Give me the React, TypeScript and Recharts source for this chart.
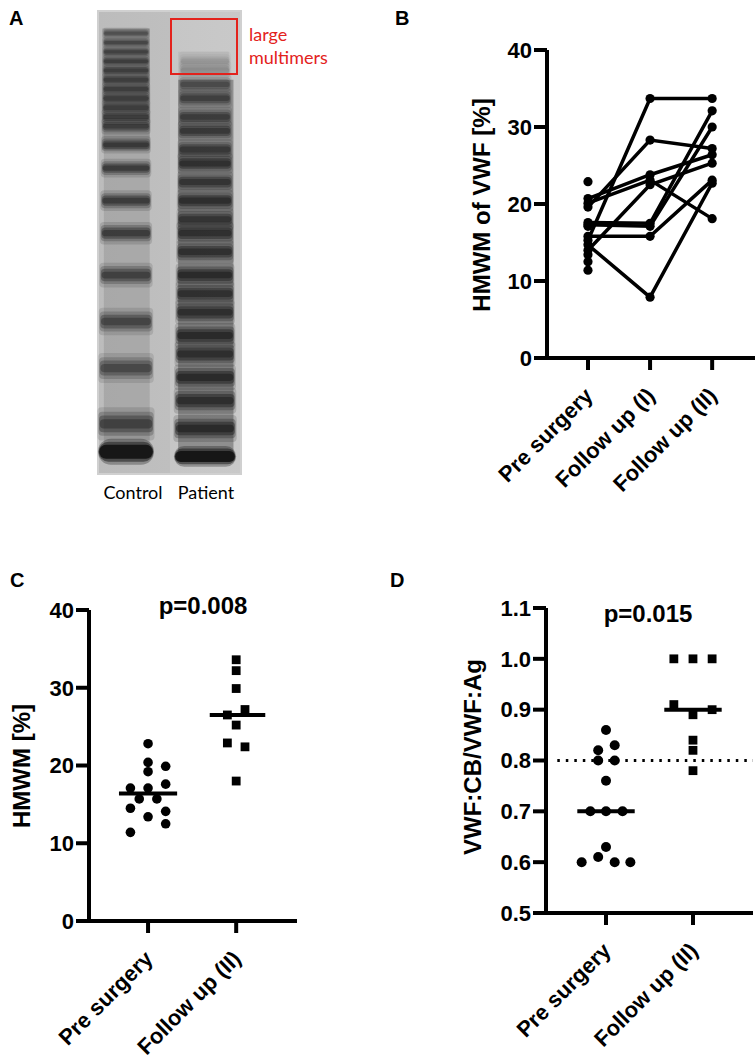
import React from 'react';
import {
  LineChart,
  Line,
  ScatterChart,
  Scatter,
  XAxis,
  YAxis,
  ReferenceLine,
  ReferenceArea,
} from 'recharts';

const FONT = '"Liberation Sans", Arial, Helvetica, sans-serif';
const LABEL_FONT = 'Lato, "Open Sans", sans-serif';

// ---- Panel A: multimer gel (migration in % of gel length, 0 = top) ----
const controlBands = [5, 7, 9, 11, 13, 15, 17, 19, 21, 23, 25, 29, 34, 41, 48, 57, 67, 77, 89, 95];
const controlIntensity = [0.45, 0.55, 0.6, 0.65, 0.65, 0.65, 0.65, 0.65, 0.65, 0.65, 0.65, 0.7, 0.75, 0.75, 0.75, 0.7, 0.65, 0.6, 0.7, 1];
const patientBands = [11, 13, 16, 19, 23, 26, 30, 33, 37, 41, 45, 48, 52, 57, 61, 65, 70, 74, 79, 84, 90, 96];
const patientIntensity = [0.15, 0.2, 0.5, 0.6, 0.65, 0.7, 0.7, 0.8, 0.75, 0.85, 0.75, 0.8, 0.8, 0.9, 0.8, 0.85, 0.9, 0.85, 0.9, 0.85, 0.9, 1];

// ---- Panel B: HMWM per patient over time ----
const stagesB = ['Pre surgery', 'Follow up (I)', 'Follow up (II)'];
const preB = [15.3, 19.6, 14.7, 15.8, 17.6, 17.3, 20.7, 20.1, 14.0, 22.9, 17.1, 13.4, 12.5, 11.4];
const fu1B = [33.7, 28.3, 7.9, 15.8, 17.5, 17.1, 23.8, 23.1, 22.5];
const fu2B = [33.7, 27.2, 22.7, 23.1, 32.1, 30.0, 26.4, 18.1, 25.3];

// ---- Panel C: HMWM pre vs follow up (II) ----
const stagesCD = ['Pre surgery', 'Follow up (II)'];
const preC = [22.8, 20.4, 19.9, 19.2, 17.1, 17.1, 17.6, 15.7, 15.7, 14.5, 14.1, 13.4, 12.5, 11.4];
const preCJitter = [0, 0, 0.2, 0, -0.2, 0, 0.2, -0.1, 0.1, -0.2, 0.2, 0, 0.2, -0.2];
const fu2C = [33.6, 32.2, 29.9, 27.2, 26.5, 25.2, 22.9, 22.4, 18.0];
const fu2CJitter = [0, 0, 0, 0.1, -0.1, 0, -0.1, 0.1, 0];

// ---- Panel D: VWF:CB/VWF:Ag ----
const preD = [0.86, 0.82, 0.83, 0.8, 0.8, 0.76, 0.7, 0.7, 0.7, 0.63, 0.61, 0.6, 0.6, 0.6];
const preDJitter = [0, -0.09, 0.1, -0.09, 0.1, 0, -0.18, 0, 0.19, 0, -0.09, -0.28, 0.1, 0.28];
const fu2D = [1.0, 1.0, 1.0, 0.91, 0.9, 0.89, 0.84, 0.82, 0.78];
const fu2DJitter = [-0.22, 0, 0.22, -0.22, 0.22, 0, 0, 0, 0];
const cutoffD = 0.8;

const median = (vals: number[]) => {
  const s = [...vals].sort((a, b) => a - b);
  const m = Math.floor(s.length / 2);
  return s.length % 2 ? s[m] : (s[m - 1] + s[m]) / 2;
};

const gelControl = controlBands.map((m, i) => ({ lane: 1, migration: m, intensity: controlIntensity[i] }));
const gelPatient = patientBands.map((m, i) => ({ lane: 2, migration: m, intensity: patientIntensity[i] }));

const bRows = [1, 2, 3].map((x) => {
  const row: Record<string, number | null> = { x };
  preB.forEach((v, i) => {
    const series = x === 1 ? preB : x === 2 ? fu1B : fu2B;
    row[`p${i}`] = series[i] ?? null;
  });
  return row;
});

const cPre = preC.map((y, i) => ({ x: 1 + preCJitter[i], y }));
const cFu = fu2C.map((y, i) => ({ x: 2 + fu2CJitter[i], y }));
const dPre = preD.map((y, i) => ({ x: 1 + preDJitter[i], y }));
const dFu = fu2D.map((y, i) => ({ x: 2 + fu2DJitter[i], y }));

const axisStyle = { stroke: '#000', strokeWidth: 4 };
const tickFont = { fontFamily: FONT, fontWeight: 700, fontSize: 22, fill: '#000' };

const StageTick = ({ x, y, payload, labels }: any) => (
  <text
    transform={`translate(${x + 2},${y + 21}) rotate(-45)`}
    textAnchor="end"
    dominantBaseline="middle"
    fontFamily={FONT}
    fontWeight={700}
    fontSize={22}
    fill="#000"
  >
    {labels[Math.round(payload.value) - 1]}
  </text>
);

// soft band: a few stacked translucent rects instead of a blur filter
const GelBand = (props: any) => {
  const { cx, cy, payload } = props;
  const m = payload.migration;
  const control = payload.lane === 1;
  const w = control ? 44 + m * 0.11 : 48 + m * 0.13;
  const h = control ? 5 + m * 0.13 : 9 + m * 0.05;
  const last = m > 93;
  const layers = last ? [[1.5, 0.3], [1.15, 0.5], [0.8, 0.9]] : [[2, 0.18], [1.45, 0.3], [1, 0.45], [0.55, 0.5]];
  return (
    <g>
      {layers.map(([k, o], i) => (
        <rect
          key={i}
          x={cx - (w * (0.94 + 0.06 * k)) / 2}
          y={cy - (h * k) / 2}
          width={w * (0.94 + 0.06 * k)}
          height={h * k}
          rx={last ? (h * k) / 2 : Math.min(4, (h * k) / 2)}
          fill="#121212"
          fillOpacity={o * payload.intensity}
        />
      ))}
    </g>
  );
};

const Dot = (props: any) => <circle cx={props.cx} cy={props.cy} r={4.8} fill="#000" />;
const DotD = (props: any) => <circle cx={props.cx} cy={props.cy} r={5} fill="#000" />;
const Sq = (props: any) => <rect x={props.cx - 4.4} y={props.cy - 4.4} width={8.8} height={8.8} fill="#000" />;

const abs = (left: number, top: number): React.CSSProperties => ({ position: 'absolute', left, top });

const VTitle = ({ cx, cy, text }: { cx: number; cy: number; text: string }) => (
  <div
    style={{
      position: 'absolute',
      left: cx,
      top: cy,
      transform: 'translate(-50%, -50%) rotate(-90deg)',
      whiteSpace: 'nowrap',
      fontFamily: FONT,
      fontWeight: 700,
      fontSize: 24,
      lineHeight: '24px',
    }}
  >
    {text}
  </div>
);

const Letter = ({ left, top, text }: { left: number; top: number; text: string }) => (
  <div style={{ ...abs(left, top), fontFamily: FONT, fontWeight: 700, fontSize: 20, lineHeight: '20px' }}>{text}</div>
);

export default function App() {
  const medPreC = median(preC);
  const medFuC = median(fu2C);
  const medPreD = median(preD);
  const medFuD = median(fu2D);

  return (
    <div style={{ position: 'absolute', left: 0, top: 0, width: 756, height: 1059, background: '#fff', overflow: 'hidden' }}>
      <Letter left={9} top={8} text="A" />
      <Letter left={395} top={8} text="B" />
      <Letter left={10} top={570} text="C" />
      <Letter left={390} top={570} text="D" />

      {/* gel */}
      <div
        style={{
          ...abs(97, 10),
          width: 145,
          height: 465,
          background: 'linear-gradient(to right, #bcbcbc 0px, #bfbfbf 73px, #c6c6c6 73px, #c9c9c9 145px)',
          boxShadow: 'inset 0 0 0 2px #d0d0d0',
        }}
      />
      <div style={abs(97, 10)}>
        <ScatterChart width={145} height={465} margin={{ top: 0, right: 0, bottom: 0, left: 0 }}>
          <XAxis type="number" dataKey="lane" domain={[0.633, 2.468]} hide />
          <YAxis type="number" dataKey="migration" domain={[0, 100]} reversed hide />
          <ReferenceArea x1={0.72} x2={1.3} y1={4} y2={96} fill="#7a7a7a" fillOpacity={0.3} stroke="none" />
          <ReferenceArea x1={0.7} x2={1.3} y1={4} y2={30} fill="#555" fillOpacity={0.25} stroke="none" />
          <ReferenceArea x1={1.66} x2={2.36} y1={15} y2={97} fill="#4a4a4a" fillOpacity={0.45} stroke="none" />
          <ReferenceArea x1={1.66} x2={2.3} y1={9} y2={15} fill="#7a7a7a" fillOpacity={0.12} stroke="none" />
          <Scatter data={gelControl} shape={GelBand} isAnimationActive={false} />
          <Scatter data={gelPatient} shape={GelBand} isAnimationActive={false} />
        </ScatterChart>
      </div>
      <div style={{ ...abs(170, 18), width: 68, height: 57, border: '2px solid #e3221c', boxSizing: 'border-box' }} />
      <div style={{ ...abs(249, 23), fontFamily: LABEL_FONT, fontSize: 18, lineHeight: '23px', color: '#e3221c' }}>
        large
        <br />
        multimers
      </div>
      <div style={{ ...abs(133, 481), transform: 'translateX(-50%)', fontFamily: LABEL_FONT, fontSize: 18, lineHeight: '22px' }}>Control</div>
      <div style={{ ...abs(206, 481), transform: 'translateX(-50%)', fontFamily: LABEL_FONT, fontSize: 18, lineHeight: '22px' }}>Patient</div>

      {/* B */}
      <VTitle cx={482} cy={205} text="HMWM of VWF [%]" />
      <div style={abs(400, 30)}>
        <LineChart width={356} height={470} data={bRows} margin={{ top: 20, right: 1, bottom: 0, left: 87 }}>
          <XAxis
            type="number"
            dataKey="x"
            domain={[0.34, 3.69]}
            ticks={[1, 2, 3]}
            axisLine={axisStyle}
            tickLine={axisStyle}
            tickSize={12}
            height={142}
            interval={0}
            tick={(p: any) => <StageTick {...p} labels={stagesB} />}
          />
          <YAxis
            type="number"
            domain={[0, 40]}
            ticks={[0, 10, 20, 30, 40]}
            width={60}
            axisLine={axisStyle}
            tickLine={axisStyle}
            tickSize={13}
            tick={tickFont}
          />
          {preB.map((_, i) => (
            <Line
              key={i}
              dataKey={`p${i}`}
              stroke="#000"
              strokeWidth={3.5}
              dot={{ r: 4.6, fill: '#000', stroke: 'none' }}
              activeDot={false}
              connectNulls={false}
              isAnimationActive={false}
            />
          ))}
        </LineChart>
      </div>

      {/* C */}
      <VTitle cx={22} cy={766} text="HMWM [%]" />
      <div style={{ ...abs(203, 606), transform: 'translate(-50%, -50%)', fontFamily: FONT, fontWeight: 700, fontSize: 24, whiteSpace: 'nowrap' }}>p=0.008</div>
      <div style={abs(0, 590)}>
        <ScatterChart width={300} height={469} margin={{ top: 20, right: 3, bottom: 0, left: 29 }}>
          <XAxis
            type="number"
            dataKey="x"
            domain={[0.33, 2.69]}
            ticks={[1, 2]}
            axisLine={axisStyle}
            tickLine={axisStyle}
            tickSize={12}
            height={138}
            interval={0}
            tick={(p: any) => <StageTick {...p} labels={stagesCD} />}
          />
          <YAxis
            type="number"
            dataKey="y"
            domain={[0, 40]}
            ticks={[0, 10, 20, 30, 40]}
            width={60}
            axisLine={axisStyle}
            tickLine={axisStyle}
            tickSize={13}
            tick={tickFont}
          />
          <Scatter data={cPre} shape={Dot} isAnimationActive={false} />
          <Scatter data={cFu} shape={Sq} isAnimationActive={false} />
          <ReferenceLine segment={[{ x: 0.67, y: medPreC }, { x: 1.33, y: medPreC }]} stroke="#000" strokeWidth={4} />
          <ReferenceLine segment={[{ x: 1.7, y: medFuC }, { x: 2.33, y: medFuC }]} stroke="#000" strokeWidth={4} />
        </ScatterChart>
      </div>

      {/* D */}
      <VTitle cx={473} cy={757} text="VWF:CB/VWF:Ag" />
      <div style={{ ...abs(648, 614), transform: 'translate(-50%, -50%)', fontFamily: FONT, fontWeight: 700, fontSize: 24, whiteSpace: 'nowrap' }}>p=0.015</div>
      <div style={abs(380, 588)}>
        <ScatterChart width={376} height={471} margin={{ top: 20, right: 3, bottom: 0, left: 96 }}>
          <XAxis
            type="number"
            dataKey="x"
            domain={[0.31, 2.69]}
            ticks={[1, 2]}
            axisLine={axisStyle}
            tickLine={axisStyle}
            tickSize={12}
            height={146}
            interval={0}
            tick={(p: any) => <StageTick {...p} labels={stagesCD} />}
          />
          <YAxis
            type="number"
            dataKey="y"
            domain={[0.5, 1.1]}
            ticks={[0.5, 0.6, 0.7, 0.8, 0.9, 1.0, 1.1]}
            tickFormatter={(v: number) => v.toFixed(1)}
            width={70}
            axisLine={axisStyle}
            tickLine={axisStyle}
            tickSize={13}
            tick={tickFont}
          />
          <ReferenceLine
            segment={[{ x: 0.44, y: cutoffD }, { x: 2.69, y: cutoffD }]}
            stroke="#000"
            strokeWidth={3}
            strokeDasharray="2.5 6"
          />
          <Scatter data={dPre} shape={DotD} isAnimationActive={false} />
          <Scatter data={dFu} shape={Sq} isAnimationActive={false} />
          <ReferenceLine segment={[{ x: 0.67, y: medPreD }, { x: 1.33, y: medPreD }]} stroke="#000" strokeWidth={4} />
          <ReferenceLine segment={[{ x: 1.67, y: medFuD }, { x: 2.33, y: medFuD }]} stroke="#000" strokeWidth={4} />
        </ScatterChart>
      </div>
    </div>
  );
}
